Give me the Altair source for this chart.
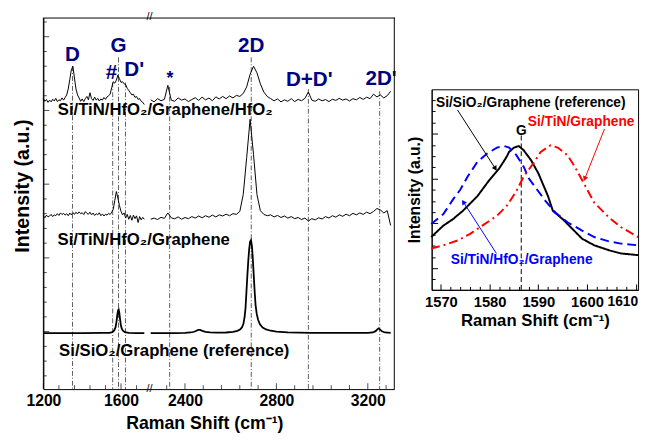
import altair as alt
import pandas as pd

FONT = "Liberation Sans"
NAVY = "#000080"

# ---------------- Left panel data (stacked Raman spectra, a.u.) ----------------
x_lo = [1200, 1208, 1216, 1224, 1232, 1240, 1248, 1256, 1264, 1272,
        1280, 1288, 1296, 1304, 1312, 1320, 1328, 1336, 1344, 1352,
        1360, 1368, 1376, 1384, 1392, 1400, 1408, 1416, 1424, 1432,
        1440, 1448, 1456, 1464, 1472, 1480, 1488, 1496, 1504, 1512,
        1520, 1528, 1536, 1544, 1552, 1560, 1568, 1576, 1584, 1592,
        1600, 1608, 1616, 1624, 1632, 1640, 1648, 1656, 1664, 1672,
        1680, 1688, 1696, 1704, 1712, 1720]
top_lo = [15.80, 15.62, 15.74, 15.55, 15.70, 15.58, 15.76, 15.64, 15.82, 15.60,
          15.72, 15.66, 15.85, 15.70, 15.88, 16.05, 16.45, 17.10, 17.75, 18.00,
          17.20, 16.45, 16.05, 15.85, 15.62, 15.78, 15.60, 15.80, 15.95, 15.72,
          16.20, 15.80, 15.68, 15.90, 15.70, 15.82, 15.64, 15.78, 15.70, 15.88,
          15.75, 15.92, 16.00, 16.10, 16.55, 16.95, 16.85, 17.05, 17.40, 17.15,
          16.90, 16.95, 16.80, 16.75, 16.50, 16.35, 16.20, 16.05, 16.10, 15.88,
          15.95, 15.75, 15.80, 15.62, 15.55, 15.40]
mid_lo = [7.85, 7.72, 7.90, 7.78, 7.84, 7.95, 7.80, 7.92, 7.86, 8.00,
          7.88, 8.05, 7.94, 8.02, 7.90, 8.00, 7.86, 8.04, 7.92, 8.08,
          7.95, 8.10, 7.98, 8.12, 8.00, 8.06, 7.94, 8.14, 8.02, 7.96,
          8.10, 7.92, 8.04, 7.88, 8.00, 7.92, 8.06, 7.86, 7.98, 7.84,
          7.96, 7.90, 8.02, 7.94, 8.10, 8.30, 8.90, 9.50, 9.05, 8.55,
          8.15, 7.92, 8.05, 7.70, 7.95, 7.62, 7.88, 7.55, 7.90, 7.66,
          7.85, 7.40, 7.80, 7.58, 7.75, 7.62]

x_hi = [2250, 2265, 2280, 2295, 2310, 2325, 2340, 2355, 2370, 2385,
        2400, 2415, 2430, 2445, 2460, 2475, 2490, 2505, 2520, 2535,
        2550, 2565, 2580, 2595, 2610, 2625, 2640, 2655, 2670, 2685,
        2700, 2715, 2730, 2745, 2760, 2775, 2790, 2805, 2820, 2835,
        2850, 2865, 2880, 2895, 2910, 2925, 2940, 2955, 2970, 2985,
        3000, 3015, 3030, 3045, 3060, 3075, 3090, 3105, 3120, 3135,
        3150, 3165, 3180, 3195, 3210, 3225, 3240, 3255, 3270, 3285,
        3300]
top_hi = [15.72, 15.58, 15.80, 15.66, 15.75, 16.70, 15.70, 15.62, 15.85, 15.70,
          15.78, 15.60, 15.74, 15.86, 15.68, 15.90, 15.72, 15.84, 15.66, 15.92,
          15.78, 15.95, 15.80, 15.98, 15.85, 16.02, 15.95, 16.15, 16.60, 17.45,
          18.00, 17.55, 16.80, 16.25, 15.95, 15.80, 15.65, 15.78, 15.58, 15.72,
          15.62, 15.80, 15.60, 15.75, 15.66, 15.82, 16.25, 15.70, 15.62, 15.78,
          15.65, 15.74, 15.60, 15.76, 15.68, 15.82, 15.70, 15.78, 15.64, 15.80,
          15.72, 15.88, 15.75, 15.90, 15.80, 16.10, 15.92, 16.05, 15.85, 16.00,
          16.30]
mid_hi = [7.62, 7.70, 7.60, 7.75, 7.68, 8.05, 7.72, 7.65, 7.78, 7.62,
          7.74, 7.66, 7.80, 7.70, 7.84, 7.72, 7.86, 7.76, 7.90, 7.78,
          7.92, 7.84, 7.96, 7.86, 8.00, 7.95, 8.15, 9.30, 11.80, 14.40,
          12.00, 9.30, 8.20, 7.95, 7.86, 7.92, 7.78, 7.88, 7.74, 7.84,
          7.70, 7.80, 7.66, 7.74, 7.60, 7.70, 7.50, 7.66, 7.58, 7.72,
          7.64, 7.80, 7.70, 7.86, 7.76, 7.92, 7.82, 7.96, 7.86, 8.02,
          7.92, 8.05, 7.95, 8.10, 8.00, 8.15, 8.35, 8.25, 8.05, 8.20,
          7.20]

ref_lo_x = [1200, 1300, 1400, 1500, 1540, 1555, 1565, 1572, 1577, 1581, 1585,
            1588, 1591, 1595, 1599, 1604, 1610, 1620, 1640, 1680, 1720]
ref_lo_y = [-0.10, -0.10, -0.10, -0.09, -0.08, -0.04, 0.08, 0.30, 0.70, 1.15, 1.45,
            1.50, 1.30, 0.85, 0.45, 0.20, 0.06, -0.04, -0.08, -0.10, -0.10]
ref_hi_x = [2250, 2350, 2400, 2425, 2440, 2450, 2458, 2466, 2476, 2490,
            2510, 2540, 2580, 2610, 2630, 2642, 2650, 2656, 2661, 2665,
            2669, 2673, 2677, 2681, 2685, 2689, 2693, 2697, 2701, 2705,
            2709, 2714, 2720, 2728, 2740, 2755, 2775, 2800, 2850, 2950,
            3100, 3200, 3222, 3234, 3242, 3247, 3253, 3262, 3275, 3300]
ref_hi_y = [-0.10, -0.10, -0.09, -0.06, -0.01, 0.06, 0.12, 0.11, 0.05, -0.01,
            -0.05, -0.07, -0.06, -0.02, 0.05, 0.15, 0.30, 0.55, 1.00, 1.60,
            2.70, 3.80, 4.80, 5.60, 6.10, 6.20, 5.80, 4.90, 3.80, 2.70,
            1.80, 1.20, 0.80, 0.50, 0.28, 0.15, 0.06, 0.00, -0.05, -0.08,
            -0.09, -0.09, -0.06, 0.03, 0.15, 0.22, 0.15, 0.02, -0.06, -0.09]

peak_names = ["D", "G", "#", "D'", "*", "2D", "D+D'", "2D'"]
peak_line_x = [1350, 1587, 1557, 1623, 2333, 2690, 2940, 3252]
peak_line_top = [18.0, 18.6, 16.9, 16.9, 16.6, 18.6, 16.45, 16.3]
peak_text_x = [1350, 1587, 1551, 1668, 2334, 2690, 2944, 3258]
peak_text_y = [18.77, 19.33, 17.53, 17.73, 17.15, 19.33, 17.07, 17.1]
peak_text_size = [21, 21, 21, 21, 18, 21, 21, 21]

sample_names = ["Si/TiN/HfO\u2082/Graphene/HfO\u2082", "Si/TiN/HfO\u2082/Graphene",
                "Si/SiO\u2082/Graphene (reference)"]
sample_x = [1274, 1273, 1281]
sample_y = [15.0, 6.2, -1.32]

# ---------------- Right panel data (G band zoom) ----------------
g_ref_x = [1568, 1570.5, 1572.5, 1574.5, 1577.5, 1580, 1582, 1583.5, 1584, 1585, 1586, 1587,
           1588.5, 1590, 1591, 1592, 1593, 1595, 1597, 1599, 1601.5, 1604.5, 1607, 1610.5]
g_ref_y = [53.7, 65.3, 72, 80.3, 95.3, 112, 123.7, 135.3, 140.3, 144.7, 146.3, 142,
           132, 118.7, 107, 95.3, 80.3, 72, 62, 52, 45.3, 40.3, 37, 35.3]
g_hfo2_x = [1568, 1570.5, 1572.5, 1574, 1575.5, 1577.5, 1579.5, 1581.5, 1583, 1584, 1585.5,
            1587, 1588, 1590, 1591.5, 1593.5, 1596, 1599, 1601.5, 1604.5, 1607, 1610.5]
g_hfo2_y = [67, 77, 92, 102, 115.3, 130.3, 138.7, 144.7, 146.3, 144.7, 137,
            125.3, 113.7, 100.3, 90.3, 78.7, 68.7, 60.3, 53.7, 49.3, 47, 45.3]
g_tin_x = [1568, 1570.5, 1573.5, 1576, 1578.5, 1581.5, 1583.5, 1585.5, 1587, 1589,
           1590.5, 1592.5, 1594, 1596, 1597.5, 1599.5, 1601.5, 1604.5, 1607, 1610.5]
g_tin_y = [42, 45.3, 50.3, 57, 65.3, 75.3, 85.3, 100.3, 115.3, 128.7,
           140.3, 147, 144.7, 137, 125.3, 107, 88.7, 73.7, 63.7, 53.7]

series = ["ref", "hfo2", "tin"]
series_colors = ["black", "#0000ff", "#ff0000"]
series_dash = [[1, 0], [9, 5], [9, 4, 2, 4]]

ann_left_text = ["Si/SiO\u2082/Graphene (reference)"]
ann_left_x = [1569]
ann_left_y = [190.3]
ann_left_s = ["ref"]
ann_ctr_text = ["Si/TiN/Graphene", "Si/TiN/HfO\u2082/Graphene", "G"]
ann_ctr_x = [1598.8, 1586.6, 1586.5]
ann_ctr_y = [170.3, 30, 162]
ann_ctr_s = ["tin", "hfo2", "ref"]

arrow_x0 = [1573.4, 1603.6, 1581.4]
arrow_y0 = [183, 163.7, 37]
arrow_x1 = [1581.1, 1599.6, 1574.7]
arrow_y1 = [124, 113.7, 88.7]
arrow_angle = [147, 202, 327]
arrow_s = ["ref", "tin", "hfo2"]

g_line_x = [1586.5]
g_line_top = [157]

# ---------------- helpers ----------------
def cond(test, a, b):
    return {"condition": {"test": test, "value": a}, "value": b}

Y_DOM = [-3.9, 21.3]
H = 378
SEGS = [
    dict(lo=1200, hi=1747, w=108, labels=[1200, 1600], ticks=[1200 + 80 * k for k in range(7)]),
    dict(lo=2245, hi=3316, w=249, labels=[2400, 2800, 3200], ticks=[2320 + 80 * k for k in range(13)]),
]
Y_TICKS = list(range(-3, 22))

noisy = pd.DataFrame({
    "x": x_lo + x_lo + x_hi + x_hi,
    "y": top_lo + mid_lo + top_hi + mid_hi,
    "s": ["t"] * len(x_lo) + ["m"] * len(x_lo) + ["t"] * len(x_hi) + ["m"] * len(x_hi),
    "seg": [0] * (2 * len(x_lo)) + [1] * (2 * len(x_hi)),
})
ref = pd.DataFrame({
    "x": ref_lo_x + ref_hi_x,
    "y": ref_lo_y + ref_hi_y,
    "seg": [0] * len(ref_lo_x) + [1] * len(ref_hi_x),
})
peaks = pd.DataFrame({
    "name": peak_names, "px": peak_line_x, "top": peak_line_top,
    "bottom": [Y_DOM[0]] * len(peak_names),
    "tx": peak_text_x, "ty": peak_text_y, "fs": peak_text_size,
    "seg": [0 if v < 2000 else 1 for v in peak_line_x],
})
samples = pd.DataFrame({"t": sample_names, "x": sample_x, "y": sample_y})
breaks = pd.DataFrame({"x": [SEGS[0]["hi"]] * 2, "y": [Y_DOM[1], Y_DOM[0]], "t": ["//", "//"]})


def segment(i):
    S = SEGS[i]
    xs = alt.Scale(domain=[S["lo"], S["hi"]], nice=False, zero=False)
    ys = alt.Scale(domain=Y_DOM, nice=False, zero=False)
    ax_bottom = alt.Axis(orient="bottom", values=S["labels"], format="d", ticks=False, grid=False,
                         title=None, domainColor="black", domainWidth=1,
                         labelFont=FONT, labelFontSize=16, labelFontWeight="bold",
                         labelColor="black", labelPadding=4, labelFlush=False, labelOverlap=False)
    ax_top = alt.Axis(orient="top", ticks=False, labels=False, grid=False, title=None,
                      domainColor="black", domainWidth=1)
    if i == 0:
        ax_y_main = alt.Axis(orient="left", labels=False, ticks=False, grid=False,
                             title="Intensity (a.u.)", titleFont=FONT, titleFontSize=20,
                             titleFontWeight="bold", titleColor="black", titlePadding=11,
                             titleY=171, domainColor="black")
    else:
        ax_y_main = None
    X = lambda f, ax=None: alt.X(f, scale=xs, axis=ax)
    Y = lambda f, ax=None: alt.Y(f, scale=ys, axis=ax)

    d_peaks = peaks[peaks.seg == i]
    rules = alt.Chart(d_peaks).mark_rule(color="#333333", strokeWidth=0.8,
                                         strokeDash=[5, 2, 1, 2]).encode(
        x=X("px:Q"), y=Y("top:Q"), y2="bottom:Q")
    refl = alt.Chart(ref[ref.seg == i]).mark_line(color="black", strokeWidth=1.8).encode(
        x=X("x:Q", ax_top), y=Y("y:Q"))
    lines = alt.Chart(noisy[noisy.seg == i]).mark_line(color="black", strokeWidth=1).encode(
        x=X("x:Q", ax_bottom), y=Y("y:Q", ax_y_main), detail="s:N")
    labels = alt.Chart(d_peaks).mark_text(font=FONT, fontWeight="bold", color=NAVY,
                                          baseline="middle", align="center").encode(
        x=X("tx:Q"), y=Y("ty:Q"), text="name:N", size=alt.Size("fs:Q", scale=None))

    # frame side (left edge for the first piece, right edge for the second)
    edge_x = S["lo"] if i == 0 else S["hi"]
    side = alt.Chart(pd.DataFrame({"x": [edge_x], "y": [Y_DOM[0]], "y2": [Y_DOM[1]]})).mark_rule(
        color="black", strokeWidth=1).encode(x=X("x:Q"), y=Y("y:Q"), y2="y2:Q")

    # inward ticks along the bottom edge
    xt = pd.DataFrame({"x": S["ticks"], "y": [Y_DOM[0]] * len(S["ticks"])})
    xt_major = alt.Chart(xt[xt.x % 400 == 0]).mark_tick(
        orient="vertical", size=6, thickness=1, color="black", yOffset=-3).encode(
        x=X("x:Q"), y=Y("y:Q"))
    xt_minor = alt.Chart(xt[xt.x % 400 != 0]).mark_tick(
        orient="vertical", size=4, thickness=1, color="black", yOffset=-2).encode(
        x=X("x:Q"), y=Y("y:Q"))

    layers = [rules, refl, lines, labels, side, xt_major, xt_minor]
    if i == 0:
        yt = pd.DataFrame({"y": Y_TICKS, "x": [S["lo"]] * len(Y_TICKS)})
        yt_major = alt.Chart(yt[yt.y % 5 == 0]).mark_tick(
            orient="horizontal", size=6, thickness=1, color="black", xOffset=3).encode(
            x=X("x:Q"), y=Y("y:Q"))
        yt_minor = alt.Chart(yt[yt.y % 5 != 0]).mark_tick(
            orient="horizontal", size=3.5, thickness=1, color="black", xOffset=1.75).encode(
            x=X("x:Q"), y=Y("y:Q"))
        stext = alt.Chart(samples).mark_text(font=FONT, fontWeight="bold", fontSize=17,
                                             color="black", align="left", baseline="middle").encode(
            x=X("x:Q"), y=Y("y:Q"), text="t:N")
        brk = alt.Chart(breaks).mark_text(font=FONT, fontSize=11, color="black",
                                          align="center", baseline="middle").encode(
            x=X("x:Q"), y=Y("y:Q"), text="t:N")
        layers += [yt_major, yt_minor, stext, brk]
    return alt.layer(*layers).resolve_axis(x="independent", y="independent").properties(
        width=S["w"], height=H)


left = alt.hconcat(
    segment(0), segment(1), spacing=0, bounds="flush",
    title=alt.TitleParams("Raman Shift (cm\u207b\u00b9)", orient="bottom", anchor="middle",
                          font=FONT, fontSize=18, fontWeight="bold", color="black", offset=7))

# ---------------- Right panel ----------------
R_W, R_H = 210, 204
RX = alt.Scale(domain=[1568.1, 1610.5], nice=False, zero=False)
RY = alt.Scale(domain=[0, 204], nice=False, zero=False)
CS = alt.Scale(domain=series, range=series_colors)

curves = pd.DataFrame({
    "w": g_ref_x + g_hfo2_x + g_tin_x,
    "I": g_ref_y + g_hfo2_y + g_tin_y,
    "s": ["ref"] * len(g_ref_x) + ["hfo2"] * len(g_hfo2_x) + ["tin"] * len(g_tin_x),
})
arrows = pd.DataFrame({"x0": arrow_x0, "y0": arrow_y0, "x1": arrow_x1, "y1": arrow_y1,
                       "a": arrow_angle, "s": arrow_s})
gline = pd.DataFrame({"x": g_line_x, "top": g_line_top, "bottom": [0]})
ann_l = pd.DataFrame({"t": ann_left_text, "x": ann_left_x, "y": ann_left_y, "s": ann_left_s})
ann_c = pd.DataFrame({"t": ann_ctr_text, "x": ann_ctr_x, "y": ann_ctr_y, "s": ann_ctr_s})

r_ax_x = alt.Axis(orient="bottom", values=[1570, 1580, 1590, 1600, 1610], format="d",
                  ticks=False, grid=False,
                  title="Raman Shift (cm\u207b\u00b9)", titleFont=FONT, titleFontSize=17,
                  titleFontWeight="bold", titleColor="black", titlePadding=3,
                  labelFont=FONT, labelFontSize=cond("datum.value === 1610", 14, 15),
                  labelFontWeight="bold", labelColor="black",
                  labelPadding=5, labelFlush=4, labelFlushOffset=2, labelOverlap=False,
                  domainColor="black")
r_ax_y = alt.Axis(orient="left", labels=False, ticks=False, grid=False, title="Intensity (a.u.)",
                  titleFont=FONT, titleFontSize=16, titleFontWeight="bold", titleColor="black",
                  titlePadding=9, domainColor="black")
r_ax_xin = alt.Axis(orient="top", offset=-R_H, values=[1568 + 2 * k for k in range(22)],
                    labels=False, domain=False, grid=False, title=None, tickColor="black",
                    tickSize=cond("datum.value % 10 === 0", 6, 3.5))
r_ax_yin = alt.Axis(orient="right", offset=-R_W, values=[round(22 + 11.4 * k, 1) for k in range(-1, 17)],
                    labels=False, domain=False, grid=False, title=None, tickColor="black",
                    tickSize=cond("abs(round((datum.value - 22) / 11.4)) % 4 === 0", 6, 3.5))

curve_l = alt.Chart(curves).mark_line(strokeWidth=2).encode(
    x=alt.X("w:Q", scale=RX, axis=r_ax_x),
    y=alt.Y("I:Q", scale=RY, axis=r_ax_y),
    color=alt.Color("s:N", scale=CS, legend=None),
    strokeDash=alt.StrokeDash("s:N", scale=alt.Scale(domain=series, range=series_dash), legend=None))
arrow_l = alt.Chart(arrows).mark_rule(strokeWidth=1).encode(
    x=alt.X("x0:Q", scale=RX, axis=r_ax_xin),
    y=alt.Y("y0:Q", scale=RY, axis=r_ax_yin),
    x2="x1:Q", y2="y1:Q",
    color=alt.Color("s:N", scale=CS, legend=None))
head_l = alt.Chart(arrows).mark_point(shape="triangle", filled=True, size=32, opacity=1).encode(
    x=alt.X("x1:Q", scale=RX, axis=None),
    y=alt.Y("y1:Q", scale=RY, axis=None),
    angle=alt.Angle("a:Q", scale=None),
    color=alt.Color("s:N", scale=CS, legend=None))
g_l = alt.Chart(gline).mark_rule(color="black", strokeWidth=1, strokeDash=[5, 3]).encode(
    x=alt.X("x:Q", scale=RX, axis=None),
    y=alt.Y("top:Q", scale=RY, axis=None),
    y2="bottom:Q")
txt_l = alt.Chart(ann_l).mark_text(font=FONT, fontSize=14, fontWeight="bold", align="left",
                                   baseline="middle").encode(
    x=alt.X("x:Q", scale=RX, axis=None), y=alt.Y("y:Q", scale=RY, axis=None), text="t:N",
    color=alt.Color("s:N", scale=CS, legend=None))
txt_c = alt.Chart(ann_c).mark_text(font=FONT, fontSize=14, fontWeight="bold", align="center",
                                   baseline="middle").encode(
    x=alt.X("x:Q", scale=RX, axis=None), y=alt.Y("y:Q", scale=RY, axis=None), text="t:N",
    color=alt.Color("s:N", scale=CS, legend=None))

right = alt.layer(g_l, curve_l, arrow_l, head_l, txt_l, txt_c).resolve_axis(
    x="independent", y="independent").properties(
    width=R_W, height=R_H, view=alt.ViewBackground(stroke="black", strokeWidth=1))

spacer = alt.Chart(pd.DataFrame({"v": [0]})).mark_point(opacity=0, size=1).encode(
    x=alt.X("v:Q", axis=None), y=alt.Y("v:Q", axis=None)).properties(width=1, height=72)

chart = alt.hconcat(left, alt.vconcat(spacer, right, spacing=0), spacing=9).properties(
    padding={"left": 5, "top": 0, "right": 0, "bottom": 0}, background="white"
).configure(font=FONT).configure_view(stroke=None)

chart.save("out.html", embed_options={"renderer": "svg", "actions": False})
